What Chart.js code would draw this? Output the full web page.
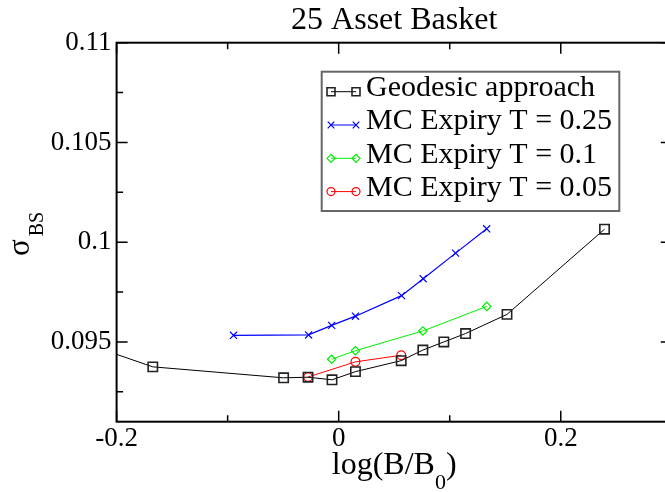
<!DOCTYPE html>
<html>
<head>
<meta charset="utf-8">
<script src="https://cdn.jsdelivr.net/npm/chart.js@4/dist/chart.umd.min.js"></script>
<style>
html,body{margin:0;padding:0;background:#fff;overflow:hidden;width:665px;height:492px;}
canvas{display:block;}
</style>
</head>
<body>
<canvas id="c" width="680" height="492"></canvas>
<script>
// ---- data ----
const titleText = '25 Asset Basket';
const seriesNames = ['Geodesic approach', 'MC Expiry T = 0.25', 'MC Expiry T = 0.1', 'MC Expiry T = 0.05'];
const seriesColors = ['#000000', '#0000ff', '#00ee00', '#ff0000'];

const geoX = [-0.30, -0.1674, -0.0496, -0.0276, -0.0060, 0.0151, 0.0563, 0.0758, 0.0947, 0.1143, 0.1516, 0.2394];
const geoY = [0.0963, 0.09375, 0.09320, 0.09323, 0.09310, 0.09351, 0.09406, 0.09459, 0.09500, 0.09542, 0.09638, 0.10065];

const mc25X = [-0.0947, -0.0271, -0.0063, 0.0151, 0.0566, 0.0761, 0.1053, 0.1333];
const mc25Y = [0.09533, 0.09535, 0.09583, 0.09629, 0.09732, 0.09817, 0.09945, 0.10067];

const mc10X = [-0.0063, 0.0151, 0.0758, 0.1333];
const mc10Y = [0.09413, 0.09456, 0.09555, 0.09678];

const mc05X = [-0.0276, 0.0151, 0.0563];
const mc05Y = [0.09324, 0.09400, 0.09433];

const xTickValues = [-0.2, 0, 0.2];
const xTickLabels = ['-0.2', '0', '0.2'];
const xMinorTicks = [-0.1, 0.1];
const yTickValues = [0.095, 0.1, 0.105, 0.11];
const yTickLabels = ['0.095', '0.1', '0.105', '0.11'];
const yMinorTicks = [0.0925, 0.0975, 0.1025, 0.1075];

const X_MIN = -0.2, X_MAX = 0.3, Y_MIN = 0.091, Y_MAX = 0.11;

// ---- helpers ----
const pts = (xs, ys) => xs.map((x, i) => ({x: x, y: ys[i]}));
const FONT = 'Liberation Serif';
Chart.defaults.font.family = FONT;
const pointStyles = ['rect', 'crossRot', 'rectRot', 'circle'];

function drawMarker(ctx, style, x, y, color) {
  ctx.save();
  ctx.strokeStyle = color;
  ctx.lineWidth = style === 'rect' ? 1.6 : 1.2;
  ctx.beginPath();
  if (style === 'rect') {
    ctx.rect(x - 4, y - 4, 8, 8);
  } else if (style === 'crossRot') {
    ctx.moveTo(x - 3.3, y - 3.3); ctx.lineTo(x + 3.3, y + 3.3);
    ctx.moveTo(x - 3.3, y + 3.3); ctx.lineTo(x + 3.3, y - 3.3);
  } else if (style === 'rectRot') {
    ctx.moveTo(x - 4, y); ctx.lineTo(x, y - 4); ctx.lineTo(x + 4, y); ctx.lineTo(x, y + 4); ctx.closePath();
  } else {
    ctx.arc(x, y, 4, 0, Math.PI * 2);
  }
  ctx.stroke();
  ctx.restore();
}

const decor = {
  id: 'decor',
  afterDatasetsDraw(chart) {
    const ctx = chart.ctx;
    const a = chart.chartArea;
    const xs = chart.scales.x, ys = chart.scales.y;
    ctx.save();
    ctx.strokeStyle = '#000';
    ctx.lineWidth = 2;
    ctx.strokeRect(a.left, a.top, a.right - a.left, a.bottom - a.top);
    ctx.lineWidth = 1.5;
    ctx.beginPath();
    const xt = (v, len) => {
      const p = xs.getPixelForValue(v);
      ctx.moveTo(p, a.bottom); ctx.lineTo(p, a.bottom - len);
      ctx.moveTo(p, a.top); ctx.lineTo(p, a.top + len);
    };
    const yt = (v, len) => {
      const p = ys.getPixelForValue(v);
      ctx.moveTo(a.left, p); ctx.lineTo(a.left + len, p);
      ctx.moveTo(a.right, p); ctx.lineTo(a.right - len, p);
    };
    xTickValues.forEach(v => xt(v, 11));
    xMinorTicks.forEach(v => xt(v, 6.5));
    yTickValues.forEach(v => yt(v, 11));
    yMinorTicks.forEach(v => yt(v, 6.5));
    ctx.stroke();
    ctx.restore();
  },
  afterDraw(chart) {
    const ctx = chart.ctx;
    const a = chart.chartArea;
    ctx.save();
    ctx.fillStyle = '#000';
    ctx.font = '32px "' + FONT + '"';
    ctx.textAlign = 'center';
    ctx.textBaseline = 'middle';
    ctx.fillText(titleText, (a.left + a.right) / 2, 21);

    ctx.textAlign = 'left';
    ctx.textBaseline = 'alphabetic';
    const mainF = '32px "' + FONT + '"', subF = '22px "' + FONT + '"';
    ctx.font = mainF;
    const p1 = 'log(B/B', p3 = ')';
    const w1 = ctx.measureText(p1).width, w3 = ctx.measureText(p3).width;
    ctx.font = subF;
    const w2 = ctx.measureText('0').width;
    const total = w1 + w2 + w3;
    const x0 = (a.left + a.right) / 2 - total / 2;
    const base = 474;
    ctx.font = mainF; ctx.fillText(p1, x0, base);
    ctx.font = subF; ctx.fillText('0', x0 + w1, base + 15);
    ctx.font = mainF; ctx.fillText(p3, x0 + w1 + w2, base);

    ctx.save();
    ctx.translate(28.5, 256);
    ctx.rotate(-Math.PI / 2);
    ctx.font = '31px "' + FONT + '"';
    ctx.fillText('σ', 0, 0);
    const ws = ctx.measureText('σ').width;
    ctx.font = '20px "' + FONT + '"';
    ctx.fillText('BS', ws + 3, 14.5);
    ctx.restore();

    const lx = 321.7, ly = 71.7, lw = 297.6, lh = 139.3;
    ctx.fillStyle = '#fff';
    ctx.fillRect(lx, ly, lw, lh);
    ctx.strokeStyle = '#666';
    ctx.lineWidth = 2;
    ctx.strokeRect(lx, ly, lw, lh);
    const rowY = [91.7, 125, 158.3, 191.6];
    chart.data.datasets.forEach((ds, i) => {
      const y = rowY[i];
      ctx.strokeStyle = seriesColors[i];
      ctx.lineWidth = 1;
      ctx.beginPath();
      ctx.moveTo(331, y); ctx.lineTo(356, y);
      ctx.stroke();
      drawMarker(ctx, pointStyles[i], 331, y, i === 0 ? '#222' : seriesColors[i]);
      drawMarker(ctx, pointStyles[i], 356, y, i === 0 ? '#222' : seriesColors[i]);
      ctx.fillStyle = '#000';
      ctx.font = '30px "' + FONT + '"';
      ctx.textAlign = 'left';
      ctx.textBaseline = 'middle';
      ctx.fillText(ds.label, 366, y - 3.4);
    });
    ctx.restore();
  }
};

const mk = (label, data, i, radius, bw) => ({
  label: label,
  data: data,
  borderColor: seriesColors[i],
  borderWidth: i === 1 ? 1.2 : 1,
  pointStyle: pointStyles[i],
  pointRadius: radius,
  pointBorderWidth: bw,
  pointBorderColor: i === 0 ? '#222' : seriesColors[i],
  pointBackgroundColor: 'rgba(0,0,0,0)',
  tension: 0,
  fill: false,
  clip: 0
});

new Chart(document.getElementById('c'), {
  type: 'line',
  data: {
    datasets: [
      mk(seriesNames[0], pts(geoX, geoY), 0, 6.6, 1.6),
      mk(seriesNames[1], pts(mc25X, mc25Y), 1, 5, 1.2),
      mk(seriesNames[2], pts(mc10X, mc10Y), 2, 4.2, 1.2),
      mk(seriesNames[3], pts(mc05X, mc05Y), 3, 4.4, 1.2)
    ]
  },
  options: {
    responsive: false,
    animation: false,
    devicePixelRatio: 1,
    layout: {padding: {top: 42.7, right: 8, left: 0, bottom: 0}},
    plugins: {legend: {display: false}, tooltip: {enabled: false}, title: {display: false}},
    scales: {
      x: {
        type: 'linear', min: X_MIN, max: X_MAX,
        grid: {display: false, drawTicks: false},
        border: {display: false},
        ticks: {
          color: '#000', font: {family: FONT, size: 27}, padding: 1,
          maxRotation: 0, autoSkip: false,
          callback: (v) => { const i = xTickValues.findIndex(t => Math.abs(t - v) < 1e-9); return i >= 0 ? xTickLabels[i] : ''; }
        },
        afterBuildTicks: (s) => { s.ticks = xTickValues.map(v => ({value: v})); },
        afterFit: (s) => { s.height = 70.3; }
      },
      y: {
        type: 'linear', min: Y_MIN, max: Y_MAX,
        grid: {display: false, drawTicks: false},
        border: {display: false},
        ticks: {
          color: '#000', font: {family: FONT, size: 27}, padding: 5,
          autoSkip: false,
          callback: (v) => { const i = yTickValues.findIndex(t => Math.abs(t - v) < 1e-9); return i >= 0 ? yTickLabels[i] : ''; }
        },
        afterBuildTicks: (s) => { s.ticks = yTickValues.map(v => ({value: v})); },
        afterFit: (s) => { s.width = 116.6; }
      }
    }
  },
  plugins: [decor]
});
</script>
</body>
</html>
